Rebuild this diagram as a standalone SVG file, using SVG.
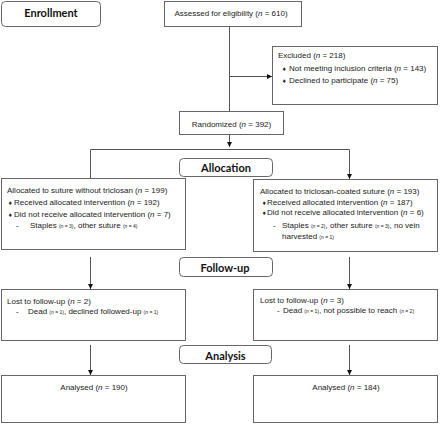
<svg xmlns="http://www.w3.org/2000/svg" width="440" height="425" viewBox="0 0 440 425">
<defs>
<marker id="ah" markerWidth="6" markerHeight="6" refX="5" refY="3" orient="auto" markerUnits="userSpaceOnUse">
<path d="M0,0.5 L5,3 L0,5.5 Z" fill="#111"/>
</marker>
<style>
.box{fill:#fff;stroke:#666;stroke-width:1}
.lbl{fill:#fff;stroke:#666;stroke-width:1}
.t{font-family:"Liberation Sans",Arial,sans-serif;font-size:8px;fill:#222}
.s{font-size:5px}
.h{font-family:Lato,"Open Sans",sans-serif;font-weight:bold;font-size:11px;fill:#111;text-anchor:middle}
.c{text-anchor:middle}
.b{font-family:"DejaVu Sans",sans-serif;font-size:5px}
.ln{stroke:#555;stroke-width:1;fill:none}
.ar{stroke:#555;stroke-width:1;fill:none;marker-end:url(#ah)}
</style>
</defs>
<g id="connectors">
<line class="ln" x1="229.5" y1="27" x2="229.5" y2="111"/>
<line class="ar" x1="229.5" y1="76.5" x2="272" y2="76.5"/>
<line class="ar" x1="229.5" y1="135" x2="229.5" y2="147"/>
<polyline class="ar" points="90.5,178 90.5,149.5 349.5,149.5 349.5,179"/>
<line class="ar" x1="90.5" y1="257" x2="90.5" y2="289"/>
<line class="ar" x1="349.5" y1="257" x2="349.5" y2="289"/>
<line class="ar" x1="90.5" y1="345" x2="90.5" y2="375"/>
<line class="ar" x1="349.5" y1="345" x2="349.5" y2="375"/>
</g>
<g id="enrollment">
<rect class="lbl" x="1.5" y="1.5" width="99" height="25" rx="4"/>
<text class="h" x="51" y="17">Enrollment</text>
</g>
<g id="assessed">
<rect class="box" x="164.5" y="1.5" width="137" height="25"/>
<text class="t c" x="231" y="16">Assessed for eligibility (<tspan font-style="italic">n</tspan> = 610)</text>
</g>
<g id="excluded">
<rect class="box" x="272.5" y="46.5" width="165" height="58"/>
<text class="t" x="278" y="57.5">Excluded (<tspan font-style="italic">n</tspan> = 218)</text>
<text class="t" x="282" y="71"><tspan class="b">♦</tspan><tspan x="289">Not meeting inclusion criteria (<tspan font-style="italic">n</tspan> = 143)</tspan></text>
<text class="t" x="282" y="83"><tspan class="b">♦</tspan><tspan x="289">Declined to participate (<tspan font-style="italic">n</tspan> = 75)</tspan></text>
</g>
<g id="randomized">
<rect class="box" x="179.5" y="111.5" width="104" height="23"/>
<text class="t c" x="231.5" y="126.5">Randomized (<tspan font-style="italic">n</tspan> = 392)</text>
</g>
<g id="allocation">
<rect class="lbl" x="179.5" y="158.5" width="93" height="18" rx="4"/>
<text class="h" x="226" y="172">Allocation</text>
</g>
<g id="alloc-left">
<rect class="box" x="1.5" y="178.5" width="184" height="71"/>
<text class="t" x="7" y="193">Allocated to suture without triclosan (<tspan font-style="italic">n</tspan> = 199)</text>
<text class="t" x="8" y="205"><tspan class="b">♦</tspan><tspan x="14">Received allocated intervention (<tspan font-style="italic">n</tspan> = 192)</tspan></text>
<text class="t" x="8" y="217"><tspan class="b">♦</tspan><tspan x="14">Did not receive allocated intervention (<tspan font-style="italic">n</tspan> = 7)</tspan></text>
<text class="t" x="16" y="228">-<tspan x="30">Staples </tspan><tspan class="s">(<tspan font-style="italic">n</tspan> = 3)</tspan>, other suture <tspan class="s">(<tspan font-style="italic">n</tspan> = 4)</tspan></text>
</g>
<g id="alloc-right">
<rect class="box" x="253.5" y="179.5" width="184" height="72"/>
<text class="t" x="260" y="193.5">Allocated to triclosan-coated suture (<tspan font-style="italic">n</tspan> = 193)</text>
<text class="t" x="262" y="204.5"><tspan class="b">♦</tspan><tspan x="267">Received allocated intervention (<tspan font-style="italic">n</tspan> = 187)</tspan></text>
<text class="t" x="262" y="215"><tspan class="b">♦</tspan><tspan x="267">Did not receive allocated intervention (<tspan font-style="italic">n</tspan> = 6)</tspan></text>
<text class="t" x="273" y="228">-<tspan x="282">Staples </tspan><tspan class="s">(<tspan font-style="italic">n</tspan> = 2)</tspan>, other suture <tspan class="s">(<tspan font-style="italic">n</tspan> = 3)</tspan>, no vein</text>
<text class="t" x="282" y="239">harvested <tspan class="s">(<tspan font-style="italic">n</tspan> = 1)</tspan></text>
</g>
<g id="followup">
<rect class="lbl" x="179.5" y="257.5" width="93" height="19" rx="4"/>
<text class="h" x="225" y="272">Follow-up</text>
</g>
<g id="lost-left">
<rect class="box" x="1.5" y="289.5" width="184" height="51"/>
<text class="t" x="7" y="304">Lost to follow-up (<tspan font-style="italic">n</tspan> = 2)</text>
<text class="t" x="16" y="314">-<tspan x="28">Dead </tspan><tspan class="s">(<tspan font-style="italic">n</tspan> = 1)</tspan>,  declined followed-up <tspan class="s">(<tspan font-style="italic">n</tspan> = 1)</tspan></text>
</g>
<g id="lost-right">
<rect class="box" x="253.5" y="289.5" width="184" height="51"/>
<text class="t" x="260" y="303">Lost to follow-up (<tspan font-style="italic">n</tspan> = 3)</text>
<text class="t" x="277" y="313">-<tspan x="283">Dead </tspan><tspan class="s">(<tspan font-style="italic">n</tspan> = 1)</tspan>, not possible to reach <tspan class="s">(<tspan font-style="italic">n</tspan> = 2)</tspan></text>
</g>
<g id="analysis">
<rect class="lbl" x="179.5" y="345.5" width="92" height="18" rx="4"/>
<text class="h" x="225.5" y="359.5">Analysis</text>
</g>
<g id="analysed-left">
<rect class="box" x="1.5" y="375.5" width="184" height="47"/>
<text class="t c" x="94" y="390">Analysed  (<tspan font-style="italic">n</tspan> = 190)</text>
</g>
<g id="analysed-right">
<rect class="box" x="253.5" y="375.5" width="184" height="47"/>
<text class="t c" x="346" y="390">Analysed (<tspan font-style="italic">n</tspan> = 184)</text>
</g>
</svg>
